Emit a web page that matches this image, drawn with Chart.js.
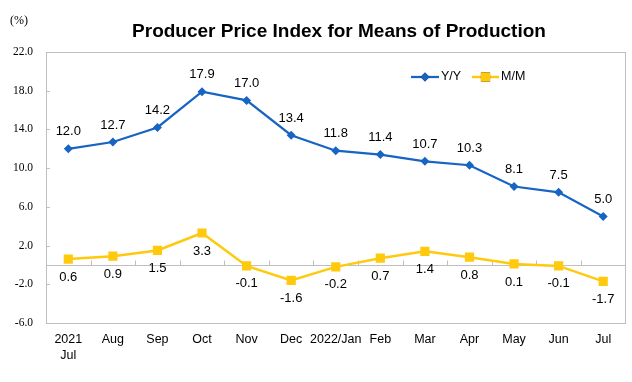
<!DOCTYPE html>
<html><head><meta charset="utf-8">
<script src="https://cdn.jsdelivr.net/npm/chart.js@4/dist/chart.umd.min.js"></script>
<style>html,body{margin:0;padding:0;background:#fff;}#wrap{width:632px;height:382px;}</style>
</head><body><div id="wrap"><canvas id="c" width="632" height="382"></canvas></div>
<script>
const categories = [['2021','Jul'],'Aug','Sep','Oct','Nov','Dec','2022/Jan','Feb','Mar','Apr','May','Jun','Jul'];
const yoyValues = [12.0,12.7,14.2,17.9,17.0,13.4,11.8,11.4,10.7,10.3,8.1,7.5,5.0];
const momValues = [0.6,0.9,1.5,3.3,-0.1,-1.6,-0.2,0.7,1.4,0.8,0.1,-0.1,-1.7];
const yTickValues = [-6,-2,2,6,10,14,18,22];
const seriesNames = ['Y/Y','M/M'];
const titleText = 'Producer Price Index for Means of Production';
const unitText = '(%)';

const BLUE = '#1764C4';
const YELLOW = '#FFC90E';
const GRAY = '#BFBFBF';
const SANS = '"Liberation Sans", Arial, sans-serif';
const SERIF = '"Liberation Serif", "Times New Roman", serif';

const decor = {
  id: 'decor',
  beforeDatasetsDraw(chart) {
    const {ctx, chartArea: a, scales: {x, y}} = chart;
    ctx.save();
    ctx.strokeStyle = GRAY;
    ctx.lineWidth = 1;
    ctx.strokeRect(Math.round(a.left) + 0.5, Math.round(a.top) + 0.5, Math.round(a.right - a.left) - 1, Math.round(a.bottom - a.top));
    const y0 = Math.round(y.getPixelForValue(0)) + 0.5;
    ctx.beginPath();
    ctx.moveTo(a.left, y0); ctx.lineTo(a.right, y0);
    for (let i = 0; i < categories.length - 1; i++) {
      const bx = Math.round((x.getPixelForTick(i) + x.getPixelForTick(i + 1)) / 2) + 0.5;
      ctx.moveTo(bx, y0); ctx.lineTo(bx, y0 - 5);
    }
    yTickValues.forEach(v => {
      const ty = Math.round(y.getPixelForValue(v)) + 0.5;
      ctx.moveTo(a.left, ty); ctx.lineTo(a.left + 4, ty);
    });
    ctx.stroke();
    ctx.restore();
  },
  afterDraw(chart) {
    const {ctx} = chart;
    ctx.save();
    ctx.fillStyle = '#000';
    ctx.font = 'bold 19px ' + SANS;
    ctx.textAlign = 'center';
    ctx.textBaseline = 'middle';
    ctx.fillText(titleText, 339, 32);
    ctx.font = '12px ' + SERIF;
    ctx.textAlign = 'left';
    ctx.fillText(unitText, 10, 21);
    ctx.font = '13px ' + SANS;
    ctx.textAlign = 'center';
    const offs = [-17, 18];
    chart.data.datasets.forEach((ds, di) => {
      const meta = chart.getDatasetMeta(di);
      meta.data.forEach((pt, i) => {
        ctx.fillText(ds.data[i].toFixed(1), pt.x, pt.y + offs[di]);
      });
    });
    const leg = [{x1: 411, x2: 439, tx: 441}, {x1: 472, x2: 499, tx: 501}];
    const ly = 77;
    chart.data.datasets.forEach((ds, di) => {
      const L = leg[di];
      ctx.strokeStyle = ds.borderColor;
      ctx.lineWidth = ds.borderWidth;
      ctx.beginPath(); ctx.moveTo(L.x1, ly); ctx.lineTo(L.x2, ly); ctx.stroke();
      Chart.helpers.drawPoint(ctx, {pointStyle: ds.pointStyle, radius: ds.pointRadius, rotation: 0, borderWidth: 0}, (L.x1 + L.x2) / 2, ly);
      ctx.fillStyle = ds.pointBackgroundColor;
      ctx.fill();
      ctx.fillStyle = '#000';
      ctx.font = '12.5px ' + SANS;
      ctx.textAlign = 'left';
      ctx.fillText(ds.label, L.tx, ly);
    });
    ctx.restore();
  }
};

new Chart(document.getElementById('c'), {
  type: 'line',
  data: {
    labels: categories,
    datasets: [
      {label: seriesNames[0], data: yoyValues, borderColor: BLUE, backgroundColor: BLUE, pointBackgroundColor: BLUE, pointBorderColor: BLUE, borderWidth: 2.25, pointStyle: 'rectRot', pointRadius: 4.5, pointBorderWidth: 0, tension: 0},
      {label: seriesNames[1], data: momValues, borderColor: YELLOW, backgroundColor: YELLOW, pointBackgroundColor: YELLOW, pointBorderColor: YELLOW, borderWidth: 2.5, pointStyle: 'rect', pointRadius: 6.5, pointBorderWidth: 0, tension: 0}
    ]
  },
  options: {
    responsive: false,
    animation: false,
    events: [],
    layout: {padding: {top: 52, right: 6, left: 0, bottom: 0}},
    plugins: {legend: {display: false}, title: {display: false}, tooltip: {enabled: false}},
    scales: {
      x: {
        offset: true,
        grid: {display: false, drawTicks: false},
        border: {display: false},
        ticks: {color: '#000', font: {family: SANS, size: 12.5, lineHeight: 1.3}, padding: 8, maxRotation: 0, autoSkip: false},
        afterFit: s => { s.height = 59; }
      },
      y: {
        min: -6, max: 22,
        grid: {display: false, drawTicks: false},
        border: {display: false},
        afterBuildTicks: s => { s.ticks = yTickValues.map(v => ({value: v})); },
        ticks: {color: '#000', font: {family: SERIF, size: 11.5}, padding: 13, callback: v => Number(v).toFixed(1)},
        afterFit: s => { s.width = 46; }
      }
    }
  },
  plugins: [decor]
});
</script></body></html>
